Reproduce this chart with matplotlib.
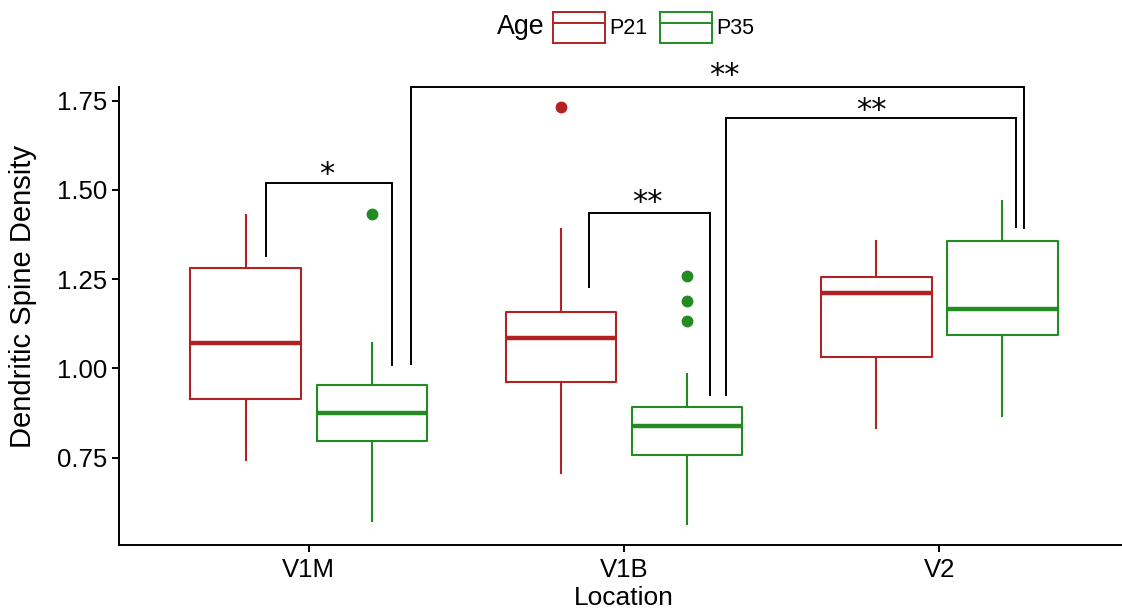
import matplotlib
matplotlib.use("Agg")
import matplotlib.pyplot as plt
from matplotlib.patches import Patch
from matplotlib.lines import Line2D

plt.rcParams['font.family'] = ['Liberation Sans', 'DejaVu Sans']

# Data
locations = ["V1M", "V1B", "V2"]
ages = ["P21", "P35"]

p21_q1 = [0.913, 0.963, 1.032]
p21_med = [1.070, 1.086, 1.211]
p21_q3 = [1.280, 1.159, 1.256]
p21_lo = [0.743, 0.706, 0.833]
p21_hi = [1.430, 1.390, 1.357]
p21_out = [[], [1.731], []]

p35_q1 = [0.797, 0.757, 1.094]
p35_med = [0.875, 0.840, 1.166]
p35_q3 = [0.953, 0.893, 1.357]
p35_lo = [0.572, 0.563, 0.867]
p35_hi = [1.070, 0.983, 1.469]
p35_out = [[1.431], [1.260, 1.188, 1.134], []]

# significance brackets: label, x left, x right, y top, y left end, y right end
sig_labels = ["*", "**", "**", "**"]
sig_xl = [0.864, 1.890, 1.324, 2.324]
sig_xr = [1.264, 2.271, 3.268, 3.242]
sig_ytop = [1.519, 1.434, 1.787, 1.702]
sig_yl = [1.315, 1.229, 1.012, 0.925]
sig_yr = [1.010, 0.925, 1.393, 1.396]
sig_tx = [1.057, 2.073, 2.318, 2.785]
sig_ty = [1.519, 1.440, 1.797, 1.699]

colors = {"P21": "#B22222", "P35": "#228B22"}

fig = plt.figure(figsize=(11.22, 6.11), dpi=100)
ax = fig.add_axes([0.1065, 0.108, 0.8994, 0.7496])

def make_stats(q1, med, q3, lo, hi, out):
    return [dict(q1=a, med=b, q3=c, whislo=d, whishi=e, fliers=f)
            for a, b, c, d, e, f in zip(q1, med, q3, lo, hi, out)]

groups = {
    "P21": make_stats(p21_q1, p21_med, p21_q3, p21_lo, p21_hi, p21_out),
    "P35": make_stats(p35_q1, p35_med, p35_q3, p35_lo, p35_hi, p35_out),
}
offsets = {"P21": -0.2, "P35": 0.2}

for age in ages:
    c = colors[age]
    pos = [i + 1 + offsets[age] for i in range(len(locations))]
    ax.bxp(groups[age], positions=pos, widths=0.35, showcaps=False,
           boxprops=dict(color=c, linewidth=1.5),
           whiskerprops=dict(color=c, linewidth=1.5),
           medianprops=dict(color=c, linewidth=3.2, solid_capstyle='butt'),
           flierprops=dict(marker='o', markerfacecolor=c, markeredgecolor=c,
                           markersize=7.5, linestyle='none'),
           manage_ticks=False)

# brackets
for lab, xl, xr, yt, yl, yr, tx, ty in zip(sig_labels, sig_xl, sig_xr, sig_ytop,
                                           sig_yl, sig_yr, sig_tx, sig_ty):
    ax.plot([xl, xl, xr, xr], [yl, yt, yt, yr], color='black', lw=1.4,
            clip_on=False, solid_joinstyle='miter')
    ax.text(tx, ty, lab, ha='center', va='baseline', fontsize=22,
            family='DejaVu Sans', clip_on=False)

ax.set_xlim(0.4, 3.6)
ax.set_ylim(0.5053, 1.788)
ax.set_xticks([1, 2, 3])
ax.set_xticklabels(locations)
ax.set_yticks([0.75, 1.00, 1.25, 1.50, 1.75])
ax.set_yticklabels(["0.75", "1.00", "1.25", "1.50", "1.75"])
ax.tick_params(labelsize=18.5, length=5, width=1.4, colors='black')
ax.tick_params(axis='x', pad=4)
ax.tick_params(axis='y', pad=4)

for s in ["top", "right"]:
    ax.spines[s].set_visible(False)
for s in ["left", "bottom"]:
    ax.spines[s].set_linewidth(1.4)

ax.set_xlabel("Location", fontsize=19, labelpad=3)
ax.set_ylabel("Dendritic Spine Density", fontsize=21)
ax.yaxis.set_label_coords(-0.0818, 0.5426)

# legend
handles = [(Patch(facecolor='white', edgecolor=colors[a], linewidth=1.4),
            Line2D([], [], color=colors[a], lw=1.4)) for a in ages]
fig.legend(handles, ages, loc='center left', bbox_to_anchor=(553 / 1122, 1 - 27.5 / 611),
           ncol=2, frameon=False, fontsize=15.5, handlelength=2.42, handleheight=1.84,
           handletextpad=0.19, columnspacing=0.6, borderpad=0, borderaxespad=0)
fig.text(497 / 1122, 1 - 27.5 / 611, "Age", fontsize=19.3, ha='left', va='center')

fig.savefig("out.png", dpi=100)
